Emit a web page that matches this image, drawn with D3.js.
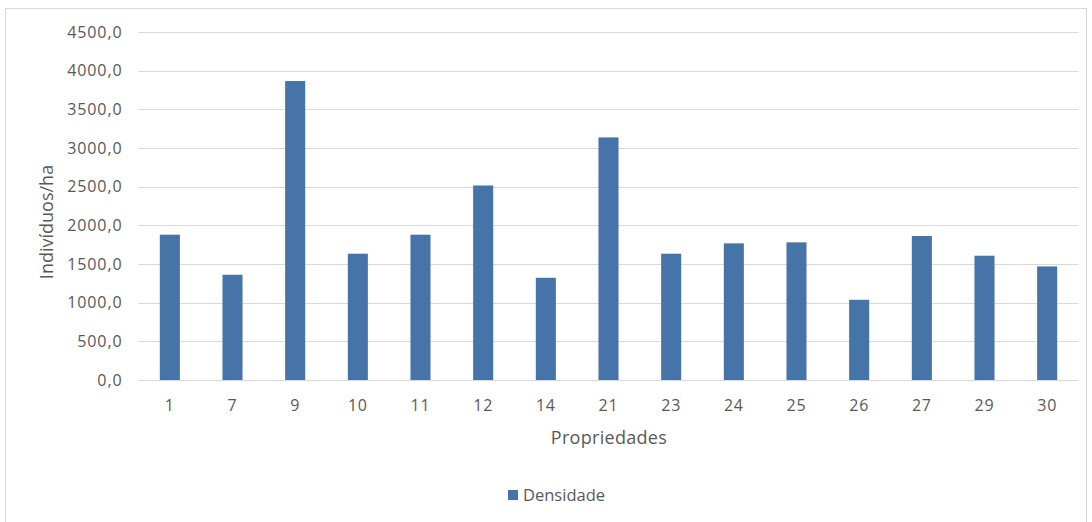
<!DOCTYPE html>
<html><head><meta charset="utf-8">
<script src="https://cdn.jsdelivr.net/npm/d3@7"></script>
<style>
html,body{margin:0;padding:0;background:#fff;}
svg text{font-family:"Open Sans","Noto Sans",sans-serif;fill:#595959;}
</style></head>
<body><svg id="c" width="1092" height="522"></svg>
<script>
const categories = ["1","7","9","10","11","12","14","21","23","24","25","26","27","29","30"];
const densidade = [1879,1361,3866,1633,1879,2515,1322,3137,1633,1767,1780,1037,1862,1607,1469];
const yTicks = [0,500,1000,1500,2000,2500,3000,3500,4000,4500];
const seriesName = "Densidade";
const xTitle = "Propriedades";
const yTitle = "Indivíduos/ha";

const svg = d3.select("#c");
const W = 1092, H = 522;
const plot = {left:138.5, right:1078.5, top:32, bottom:380};

svg.append("rect").attr("x",5.5).attr("y",8.5).attr("width",1081).attr("height",H)
  .attr("fill","#fff").attr("stroke","#d9d9d9").attr("stroke-width",1);

const x = d3.scaleBand().domain(categories).range([plot.left, plot.right]).paddingInner(0.68).paddingOuter(0.34);
const y = d3.scaleLinear().domain([0,4500]).range([plot.bottom, plot.top]);

// gridlines
svg.append("g").selectAll("line").data(yTicks).join("line")
  .attr("x1",plot.left).attr("x2",plot.right)
  .attr("y1",d=>Math.round(y(d))+0.5).attr("y2",d=>Math.round(y(d))+0.5)
  .attr("stroke","#d9d9d9").attr("stroke-width",1);

// bars
svg.append("g").selectAll("rect").data(densidade).join("rect")
  .attr("x",(d,i)=>x(categories[i]))
  .attr("width",x.bandwidth())
  .attr("y",d=>y(d))
  .attr("height",d=>y(0)-y(d))
  .attr("fill","#4674a8");

// y axis labels
const fmt = d => d3.format(".1f")(d).replace(".",",");
const yAxis = d3.axisLeft(y).tickValues(yTicks).tickFormat(fmt).tickSize(0).tickPadding(16);
const gy = svg.append("g").attr("transform",`translate(${plot.left},0)`).call(yAxis);
gy.select(".domain").remove();
gy.selectAll("text").attr("font-size",16).attr("fill","#595959").attr("letter-spacing","0.9px")
  .style("font-family",'"Open Sans","Noto Sans",sans-serif');

// x axis labels
const xAxis = d3.axisBottom(x).tickSize(0).tickPadding(20);
const gx = svg.append("g").attr("transform",`translate(0,${plot.bottom})`).call(xAxis);
gx.select(".domain").remove();
gx.selectAll("text").attr("font-size",16).attr("fill","#595959").attr("letter-spacing","0.8px")
  .style("font-family",'"Open Sans","Noto Sans",sans-serif');

// titles
svg.append("text").attr("x",609).attr("y",444).attr("text-anchor","middle").attr("font-size",18).attr("letter-spacing","0.3px").text(xTitle);
svg.append("text").attr("transform","translate(53,222) rotate(-90)").attr("text-anchor","middle").attr("font-size",18).text(yTitle);

// legend
svg.append("rect").attr("x",508).attr("y",490).attr("width",10).attr("height",10).attr("fill","#4674a8");
svg.append("text").attr("x",523).attr("y",500.5).attr("font-size",16.5).text(seriesName);
</script></body></html>
